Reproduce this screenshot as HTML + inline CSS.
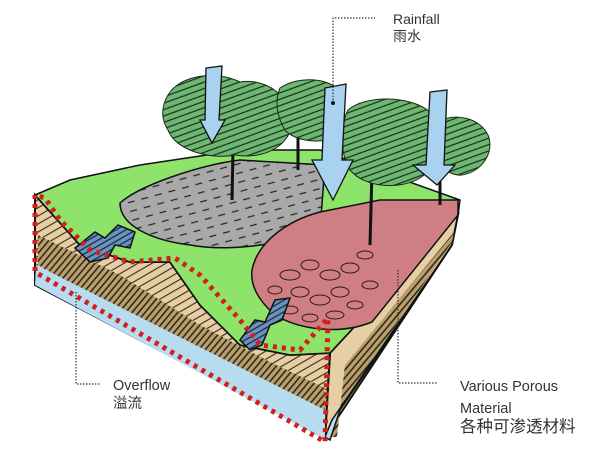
<!DOCTYPE html>
<html><head><meta charset="utf-8"><style>
html,body{margin:0;padding:0;background:#fff;}
svg{display:block;}
text{font-family:"Liberation Sans","Noto Sans CJK SC",sans-serif;fill:#333;}
</style></head><body>
<svg width="600" height="458" viewBox="0 0 600 458" xmlns="http://www.w3.org/2000/svg">
<defs>
<pattern id="hatch" width="7" height="7" patternUnits="userSpaceOnUse" patternTransform="rotate(-30)">
<rect width="7" height="7" fill="#e6cfa4"/><line x1="0" y1="3" x2="7" y2="3" stroke="#3a2a18" stroke-width="1.1"/></pattern>
<pattern id="dhatch" width="5" height="5" patternUnits="userSpaceOnUse" patternTransform="rotate(-50)">
<rect width="5" height="5" fill="#b8a070"/><line x1="0" y1="2" x2="5" y2="2" stroke="#2a2010" stroke-width="1.5"/></pattern>
<pattern id="tree" width="6" height="6" patternUnits="userSpaceOnUse" patternTransform="rotate(-20)">
<rect width="6" height="6" fill="#6cb872"/><line x1="0" y1="3" x2="6" y2="3" stroke="#1c2a18" stroke-width="1.2"/></pattern>
<pattern id="gray" width="14" height="9" patternUnits="userSpaceOnUse" patternTransform="rotate(-15)">
<rect width="14" height="9" fill="#a9a9a9"/><line x1="1" y1="4" x2="8" y2="4" stroke="#222" stroke-width="1.2"/></pattern>
<pattern id="blue" width="5" height="5" patternUnits="userSpaceOnUse" patternTransform="rotate(-30)">
<rect width="5" height="5" fill="#6a94bf"/><line x1="0" y1="2" x2="5" y2="2" stroke="#1a2a40" stroke-width="1.3"/></pattern>
</defs>

<!-- right face -->
<polygon points="458,215 330,353 325,437 452,245" fill="#e6cfa4" stroke="#111" stroke-width="2"/>
<polygon points="454,232 345,365 337,437 325,437 332,420 452,242" fill="url(#dhatch)"/>
<polygon points="452,245 340,410 330,440 325,437 332,420" fill="#b7dcef" stroke="#111" stroke-width="1.5"/>

<!-- left face -->
<polygon points="35,195 80,245 130,262 170,262 200,305 240,345 290,355 330,353 325,437 35,285" fill="url(#hatch)" stroke="#111" stroke-width="2"/>
<polygon points="38,235 120,275 200,325 270,362 325,388 325,412 250,380 160,333 38,265" fill="url(#dhatch)"/>
<polygon points="36,265 325,410 325,440 35,285" fill="#b7dcef"/>

<!-- top green -->
<polygon points="35,195 70,180 140,165 240,150 320,150 460,200 458,215 330,353 290,355 240,345 200,305 170,262 130,262 80,245" fill="#8ee36a" stroke="#111" stroke-width="1.5"/>
<!-- gray -->
<path d="M120,203 C140,185 200,165 240,160 L325,165 L320,230 C280,245 230,252 190,245 C150,240 120,225 120,203 Z" fill="url(#gray)" stroke="#111" stroke-width="1.5"/>
<!-- pink -->
<path d="M252,270 C258,240 290,220 320,212 L380,200 L458,200 L458,215 L372,322 C340,335 300,330 275,315 C258,300 250,285 252,270 Z" fill="#cf7f84" stroke="#111" stroke-width="1.5"/>
<g fill="none" stroke="#2a1a1a" stroke-width="1">
<ellipse cx="290" cy="275" rx="10" ry="5"/><ellipse cx="310" cy="265" rx="9" ry="5"/><ellipse cx="330" cy="275" rx="10" ry="5"/><ellipse cx="350" cy="268" rx="9" ry="5"/><ellipse cx="300" cy="292" rx="9" ry="5"/><ellipse cx="320" cy="300" rx="10" ry="5"/><ellipse cx="340" cy="292" rx="9" ry="5"/><ellipse cx="355" cy="305" rx="8" ry="4"/><ellipse cx="275" cy="290" rx="7" ry="4"/><ellipse cx="370" cy="285" rx="8" ry="4"/><ellipse cx="335" cy="315" rx="9" ry="4"/><ellipse cx="365" cy="255" rx="8" ry="4"/><ellipse cx="290" cy="310" rx="8" ry="4"/><ellipse cx="310" cy="318" rx="8" ry="4"/>
</g>
<!-- blue swales -->
<polygon points="75,248 95,232 105,238 118,225 135,232 130,248 115,245 108,258 90,262" fill="url(#blue)" stroke="#111" stroke-width="1.5"/>
<polygon points="240,340 255,320 265,322 275,300 290,298 282,320 270,325 262,345 250,350" fill="url(#blue)" stroke="#111" stroke-width="1.5"/>

<!-- red dotted outline -->
<path d="M35,195 L35,272 L325,442 L328,318 L300,350 L260,345 L240,320 L200,275 L175,258 L130,262 L90,250 L60,220 L45,198 Z" fill="none" stroke="#d21e1e" stroke-width="5" stroke-dasharray="4,5"/>

<!-- trunks -->
<g stroke="#111" stroke-width="3" fill="none">
<line x1="233" y1="150" x2="232" y2="200"/><line x1="298" y1="130" x2="298" y2="170"/><line x1="372" y1="170" x2="370" y2="245"/><line x1="440" y1="175" x2="440" y2="205"/>
</g>
<!-- canopies -->
<g fill="url(#tree)" stroke="#1a2a18" stroke-width="1">
<path d="M168,95 C180,75 215,70 240,82 C265,78 290,95 292,120 C292,145 265,160 235,155 C210,160 175,150 168,130 C160,118 162,105 168,95 Z"/>
<path d="M280,88 C300,75 330,78 340,92 L342,135 C325,145 295,142 285,130 C276,115 275,100 280,88 Z"/>
<path d="M348,110 C365,95 410,95 430,112 C445,130 440,165 420,178 C400,190 365,188 350,170 C340,155 340,125 348,110 Z"/>
<path d="M438,122 C455,112 480,118 488,135 C495,152 482,172 462,175 C448,176 438,165 438,150 Z"/>
</g>
<!-- arrows -->
<g fill="#a9d2f0" stroke="#111" stroke-width="1.3">
<polygon points="206,68 222,66 219,120 225,120 212,143 200,120 205,120"/>
<polygon points="325,88 346,84 342,160 353,160 333,200 312,160 322,160"/>
<polygon points="430,92 447,90 444,165 455,165 437,185 413,165 426,165"/>
</g>

<!-- callouts -->
<g fill="none" stroke="#333" stroke-width="1.2" stroke-dasharray="1.5,1.5">
<path d="M333,103 L333,18 L375,18"/>
<path d="M76,292 L76,384 L100,384"/>
<path d="M398,270 L398,383 L438,383"/>
</g>
<circle cx="333" cy="103" r="2" fill="#111"/>
<text x="393" y="24" font-size="14">Rainfall</text>
<text x="393" y="41" font-size="14">雨水</text>
<text x="113" y="390" font-size="14.5">Overflow</text>
<text x="113" y="408" font-size="14.5">溢流</text>
<text x="460" y="391" font-size="14.5">Various Porous</text>
<text x="460" y="413" font-size="14.5">Material</text>
<text x="460" y="432" font-size="16.5">各种可渗透材料</text>
</svg>
</body></html>
